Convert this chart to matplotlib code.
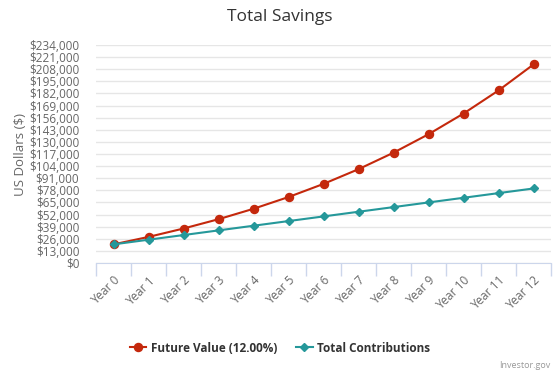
import numpy as np
import matplotlib
matplotlib.use('Agg')
import matplotlib.pyplot as plt
from matplotlib.ticker import FuncFormatter, MultipleLocator

years = ['Year %d' % i for i in range(13)]
future_value = [20000, 28000, 37000, 47000, 58200, 70800, 84900,
                100700, 118400, 138200, 160400, 185200, 213100]
contributions = [20000, 25000, 30000, 35000, 40000, 45000, 50000,
                 55000, 60000, 65000, 70000, 75000, 80000]

red = '#c4280c'
teal = '#25989a'
axis_col = '#ccd6eb'

plt.rcParams['font.family'] = ['Open Sans', 'DejaVu Sans']

fig = plt.figure(figsize=(5.6, 3.73), dpi=100)
ax = fig.add_axes([96/560, 1 - 263/373, 455/560, 218/373])

x = np.arange(len(years))
ax.plot(x, future_value, color=red, lw=1.5, marker='o', ms=5.8,
        label='Future Value (12.00%)', zorder=3)
ax.plot(x, contributions, color=teal, lw=1.5, marker='D', ms=4.2,
        label='Total Contributions', zorder=4)

ax.set_xlim(-0.5, 12.5)
ax.set_ylim(0, 234000)
ax.yaxis.set_major_locator(MultipleLocator(13000))
ax.yaxis.set_major_formatter(FuncFormatter(lambda v, p: '${:,.0f}'.format(v)))
ax.grid(axis='y', color='#e6e6e6', lw=1)
ax.set_axisbelow(True)

# category labels centred, tick marks between categories
ax.set_xticks(x)
ax.set_xticklabels(years, rotation=45, ha='right', rotation_mode='anchor',
                   color='#666666', fontsize=8.5)
ax.set_xticks(np.arange(-0.5, 13, 1), minor=True)
ax.tick_params(axis='x', which='major', length=0, pad=8)
ax.tick_params(axis='x', which='minor', length=9, color=axis_col, width=1)
ax.tick_params(axis='y', length=0, labelsize=8.5, labelcolor='#666666', pad=12)

for s in ['top', 'right', 'left']:
    ax.spines[s].set_visible(False)
ax.spines['bottom'].set_color(axis_col)

ax.set_ylabel('US Dollars ($)', color='#666666', fontsize=9.5, labelpad=1)
fig.text(0.5, 0.955, 'Total Savings', ha='center', va='center',
         fontsize=12.5, color='#333333')

leg = fig.legend(loc='center', bbox_to_anchor=(0.5, 1 - 348/373), ncol=2,
                 frameon=False, fontsize=8.5, handlelength=1.4,
                 columnspacing=1.6, handletextpad=0.4)
for t in leg.get_texts():
    t.set_fontweight('bold')
    t.set_color('#333333')

fig.text(550/560, 1 - 366/373, 'Investor.gov', ha='right', va='center',
         fontsize=6.5, color='#999999')

fig.savefig('out.png', dpi=100)
